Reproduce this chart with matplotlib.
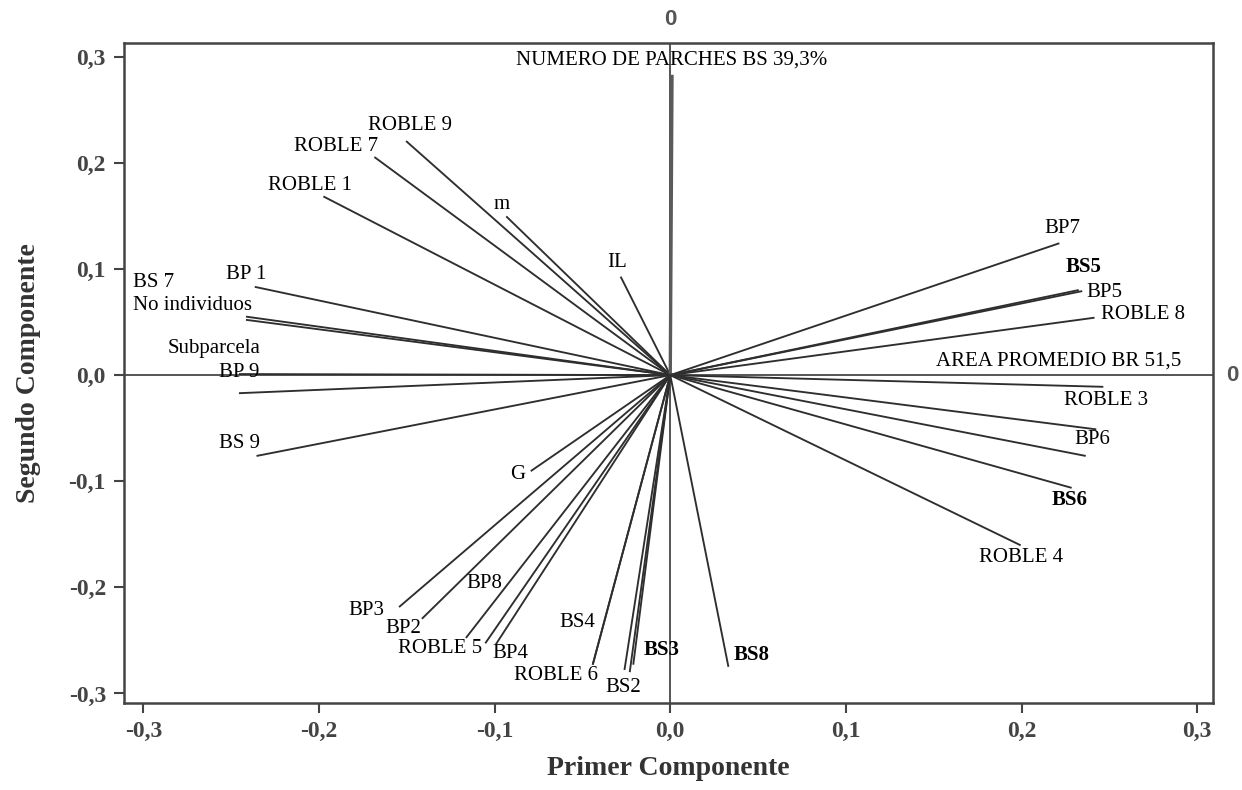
import matplotlib
matplotlib.use("Agg")
import matplotlib.pyplot as plt
from matplotlib.ticker import FuncFormatter

# ---- data: loadings on the first two components ----
variables = ["ROBLE 9", "ROBLE 7", "ROBLE 1", "m", "IL", "NUMERO DE PARCHES BS",
             "BP 1", "BS 7", "No individuos", "Subparcela", "BP 9", "BS 9", "G",
             "BP3", "BP2", "ROBLE 5", "BP8", "BP4", "BS4", "ROBLE 6", "BS2", "BS3 (b)",
             "BS3", "BS8", "BP7", "BS5", "BP5", "ROBLE 8", "ROBLE 3", "BP6",
             "BS6 (b)", "BS6", "ROBLE 4"]
pc1 = [-0.150, -0.168, -0.197, -0.093, -0.028, 0.001,
       -0.236, -0.241, -0.241, -0.245, -0.245, -0.235, -0.079,
       -0.154, -0.141, -0.116, -0.105, -0.099, -0.044, -0.044, -0.026, -0.023,
       -0.021, 0.033, 0.221, 0.232, 0.234, 0.241, 0.246, 0.242,
       0.236, 0.228, 0.199]
pc2 = [0.220, 0.205, 0.168, 0.149, 0.092, 0.283,
       0.083, 0.055, 0.052, 0.001, -0.017, -0.076, -0.090,
       -0.218, -0.229, -0.247, -0.252, -0.253, -0.272, -0.272, -0.277, -0.279,
       -0.272, -0.274, 0.124, 0.080, 0.079, 0.054, -0.011, -0.051,
       -0.076, -0.106, -0.160]

# ---- label texts and where they sit (data coordinates) ----
label_text = ["NUMERO DE PARCHES BS 39,3%", "ROBLE 9", "ROBLE 7", "ROBLE 1", "m", "IL",
              "BS 7", "No individuos", "BP 1", "Subparcela", "BP 9", "BS 9", "G",
              "BP3", "BP2", "ROBLE 5", "BP8", "BP4", "BS4", "ROBLE 6", "BS2", "BS3", "BS8",
              "BP7", "BS5", "BP5", "ROBLE 8", "AREA PROMEDIO BR 51,5", "ROBLE 3", "BP6",
              "BS6", "ROBLE 4"]
label_x = [0.0006, -0.172, -0.214, -0.229, -0.096, -0.030,
           -0.306, -0.306, -0.253, -0.286, -0.257, -0.257, -0.087,
           -0.183, -0.162, -0.155, -0.116, -0.101, -0.063, -0.089, -0.037, -0.015, 0.036,
           0.213, 0.225, 0.237, 0.245, 0.151, 0.224, 0.230,
           0.217, 0.176]
label_y = [0.297, 0.235, 0.215, 0.179, 0.161, 0.106,
           0.087, 0.066, 0.095, 0.025, 0.002, -0.064, -0.094,
           -0.222, -0.239, -0.258, -0.196, -0.262, -0.233, -0.283, -0.294, -0.259, -0.264,
           0.138, 0.102, 0.078, 0.057, 0.013, -0.024, -0.061,
           -0.118, -0.172]
label_ha = ["center", "left", "left", "left", "center", "center",
            "left", "left", "left", "left", "left", "left", "center",
            "left", "left", "left", "left", "left", "left", "left", "left", "left", "left",
            "left", "left", "left", "left", "left", "left", "left",
            "left", "left"]
bold_labels = ["BS3", "BS8", "BS5", "BS6"]

xticks = [-0.3, -0.2, -0.1, 0.0, 0.1, 0.2, 0.3]
yticks = [-0.3, -0.2, -0.1, 0.0, 0.1, 0.2, 0.3]

# ---- figure ----
fig = plt.figure(figsize=(12.42, 7.90), dpi=100)
ax = fig.add_axes([0.0998, 0.1101, 0.8769, 0.8355])
ax.set_xlim(-0.311, 0.309)
ax.set_ylim(-0.309, 0.313)

serif = ["Liberation Serif", "DejaVu Serif"]

# reference lines
ax.axhline(0, color="#555555", lw=1.4, zorder=1)
ax.axvline(0, color="#555555", lw=1.4, zorder=1)

# loading vectors
for name, x, y in zip(variables, pc1, pc2):
    if name.startswith("NUMERO"):
        ax.plot([0, x], [0, y], color="#5a5a5a", lw=2.4, solid_capstyle="butt", zorder=2)
    else:
        ax.plot([0, x], [0, y], color="#2e2e2e", lw=1.35, zorder=2)

# labels
for t, x, y, ha in zip(label_text, label_x, label_y, label_ha):
    ax.text(x, y, t, ha=ha, va="center", fontsize=15, family=serif,
            fontweight="bold" if t in bold_labels else "normal", color="black", zorder=3)

# reference-line value labels
ax.text(0, 1.035, "0", transform=ax.get_xaxis_transform(), ha="center", va="center",
        fontsize=16, fontweight="bold", family=["Liberation Sans", "DejaVu Sans"], color="#555555")
ax.text(1.0175, 0.0, "0", transform=ax.get_yaxis_transform(), ha="center", va="center",
        fontsize=16, fontweight="bold", family=["Liberation Sans", "DejaVu Sans"], color="#555555")

# axes styling
comma = FuncFormatter(lambda v, p: f"{v:.1f}".replace(".", ",").replace("-0,0", "0,0"))
ax.set_xticks(xticks)
ax.set_yticks(yticks)
ax.xaxis.set_major_formatter(comma)
ax.yaxis.set_major_formatter(comma)
ax.tick_params(direction="out", length=7, width=1.5, color="#444444",
               labelsize=17, labelcolor="#444444", pad=6)
for lab in ax.get_xticklabels() + ax.get_yticklabels():
    lab.set_family(serif)
    lab.set_fontweight("bold")
for s in ax.spines.values():
    s.set_color("#444444")
    s.set_linewidth(1.8)

ax.set_xlabel("Primer Componente", fontsize=20, fontweight="bold", family=serif,
              color="#333333", labelpad=10)
ax.set_ylabel("Segundo Componente", fontsize=20, fontweight="bold", family=serif,
              color="#333333", labelpad=20)

fig.savefig("out.png", dpi=100)
